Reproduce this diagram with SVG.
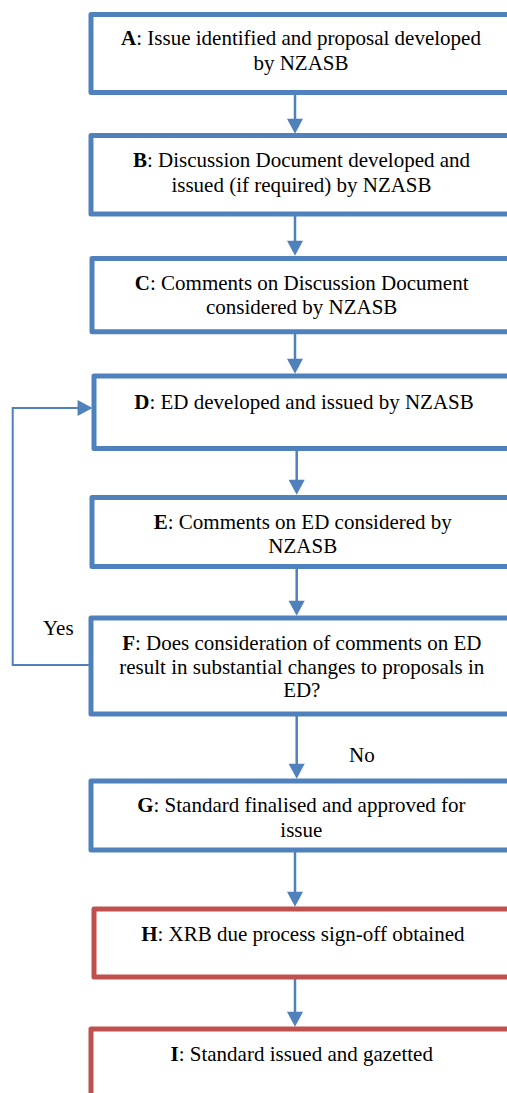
<svg xmlns="http://www.w3.org/2000/svg" width="507" height="1093" viewBox="0 0 507 1093">
<style>
.box{fill:#ffffff;stroke-width:5;stroke-linejoin:round}
.blue{stroke:#4F81BD}
.red{stroke:#C0504D}
.t{font-family:"Liberation Serif","Times New Roman",serif;font-size:21px;fill:#000;text-anchor:middle}
.lbl{font-family:"Liberation Serif","Times New Roman",serif;font-size:21px;fill:#000}
.b{font-weight:bold}
.conn{stroke:#4F81BD;stroke-width:2.5;fill:none}
.fb{stroke:#4F81BD;stroke-width:2;fill:none}
</style>
<defs>
<marker id="ah" markerUnits="userSpaceOnUse" markerWidth="16" markerHeight="16" viewBox="0 0 14 15" refX="2" refY="7.5" orient="auto">
<path d="M0,0 L14,7.5 L0,15 z" fill="#4F81BD"/>
</marker>
</defs>
<g id="connectors">
<line class="conn" x1="295" y1="92.5" x2="295" y2="121" marker-end="url(#ah)"/>
<line class="conn" x1="295" y1="214" x2="295" y2="243" marker-end="url(#ah)"/>
<line class="conn" x1="295" y1="331.7" x2="295" y2="361" marker-end="url(#ah)"/>
<line class="conn" x1="296.7" y1="448.5" x2="296.7" y2="482" marker-end="url(#ah)"/>
<line class="conn" x1="296.7" y1="566.5" x2="296.7" y2="603" marker-end="url(#ah)"/>
<line class="conn" x1="296.7" y1="714" x2="296.7" y2="766" marker-end="url(#ah)"/>
<line class="conn" x1="295" y1="850" x2="295" y2="894" marker-end="url(#ah)"/>
<line class="conn" x1="295" y1="977" x2="295" y2="1014" marker-end="url(#ah)"/>
<polyline class="fb" points="91,665 12.7,665 12.7,408 79.7,408" marker-end="url(#ah)"/>
<text class="lbl" x="43" y="635">Yes</text>
<text class="lbl" x="349" y="761.7">No</text>
</g>
<g id="A">
<rect class="box blue" x="91" y="14.5" width="422" height="78"/>
<text class="t"><tspan x="301" y="45"><tspan class="b">A</tspan>: Issue identified and proposal developed</tspan><tspan x="301" y="70">by NZASB</tspan></text>
</g>
<g id="B">
<rect class="box blue" x="91" y="135.5" width="422" height="78.5"/>
<text class="t"><tspan x="301.5" y="166.7"><tspan class="b">B</tspan>: Discussion Document developed and</tspan><tspan x="301.5" y="191.7">issued (if required) by NZASB</tspan></text>
</g>
<g id="C">
<rect class="box blue" x="92" y="258.5" width="421" height="73.2"/>
<text class="t"><tspan x="301.7" y="290"><tspan class="b">C</tspan>: Comments on Discussion Document</tspan><tspan x="301.7" y="314">considered by NZASB</tspan></text>
</g>
<g id="D">
<rect class="box blue" x="94" y="376" width="419" height="72.5"/>
<text class="t"><tspan x="304" y="409"><tspan class="b">D</tspan>: ED developed and issued by NZASB</tspan></text>
</g>
<g id="E">
<rect class="box blue" x="92" y="497.5" width="421" height="69"/>
<text class="t"><tspan x="302.8" y="529.3"><tspan class="b">E</tspan>: Comments on ED considered by</tspan><tspan x="302.8" y="552.7">NZASB</tspan></text>
</g>
<g id="F">
<rect class="box blue" x="91" y="618" width="422" height="96"/>
<text class="t"><tspan x="301.8" y="650"><tspan class="b">F</tspan>: Does consideration of comments on ED</tspan><tspan x="301.8" y="673.5">result in substantial changes to proposals in</tspan><tspan x="301.8" y="697">ED?</tspan></text>
</g>
<g id="G">
<rect class="box blue" x="91" y="781" width="422" height="69"/>
<text class="t"><tspan x="301.3" y="811.7"><tspan class="b">G</tspan>: Standard finalised and approved for</tspan><tspan x="301.3" y="836.7">issue</tspan></text>
</g>
<g id="H">
<rect class="box red" x="94" y="909" width="419" height="68"/>
<text class="t"><tspan x="302.8" y="941"><tspan class="b">H</tspan>: XRB due process sign-off obtained</tspan></text>
</g>
<g id="I">
<rect class="box red" x="91" y="1029" width="422" height="100"/>
<text class="t"><tspan x="301.7" y="1061"><tspan class="b">I</tspan>: Standard issued and gazetted</tspan></text>
</g>
</svg>
